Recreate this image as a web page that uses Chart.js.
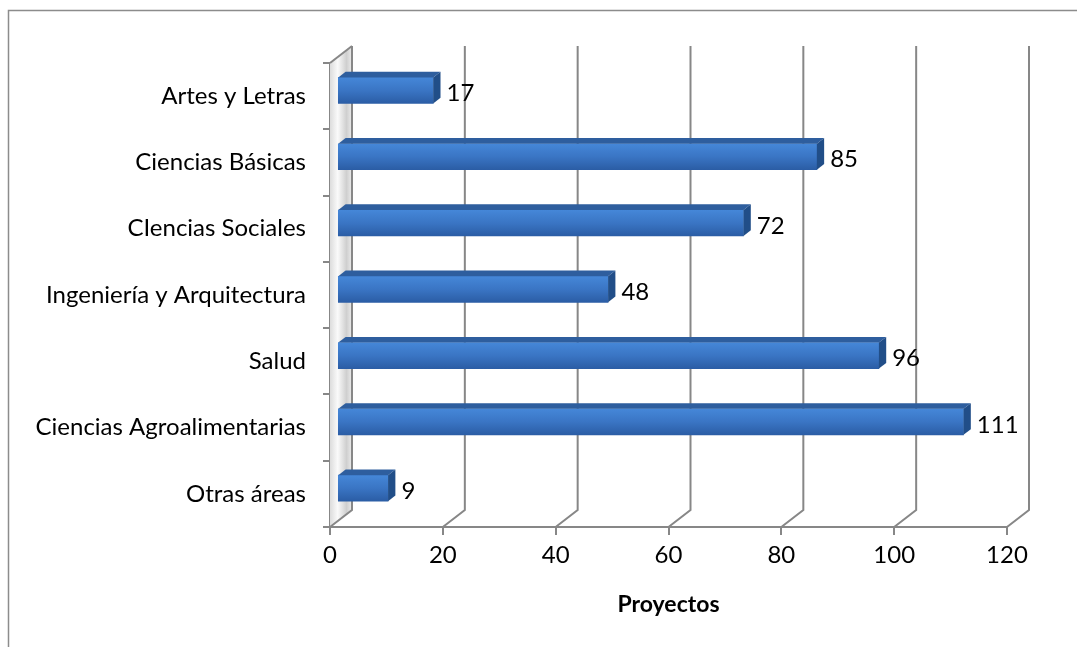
<!DOCTYPE html>
<html>
<head>
<meta charset="utf-8">
<script src="https://cdn.jsdelivr.net/npm/chart.js@4.4.0/dist/chart.umd.min.js"></script>
<style>
  html, body { margin: 0; padding: 0; background: #fff; }
  canvas { display: block; }
</style>
</head>
<body>
<canvas id="proyectosChart" width="1077" height="647"></canvas>
<script>
const categories = ['Artes y Letras', 'Ciencias Básicas', 'CIencias Sociales', 'Ingeniería y Arquitectura', 'Salud', 'Ciencias Agroalimentarias', 'Otras áreas'];
const proyectos = [17, 85, 72, 48, 96, 111, 9];
const xTicks = [0, 20, 40, 60, 80, 100, 120];
const axisTitle = 'Proyectos';

const FONT = 'Lato';
const FONT_SIZE = 24;
const GREY = '#878787';
// depth of the 3D box (back plane offset) and bar depth offset
const DEPTH = { x: 22, y: -17 };
const BAR_SHIFT = { x: 7.3, y: -5.7 };

const threeD = {
    id: 'threeD',
    beforeDraw(chart) {
        const ctx = chart.ctx;
        // outer frame (only top and left visible)
        ctx.save();
        ctx.strokeStyle = '#8c8c8c';
        ctx.lineWidth = 1.5;
        ctx.beginPath();
        ctx.moveTo(8.5, 647);
        ctx.lineTo(8.5, 10.5);
        ctx.lineTo(1077, 10.5);
        ctx.stroke();
        ctx.restore();
    },
    beforeDatasetsDraw(chart) {
        const ctx = chart.ctx;
        const xs = chart.scales.x;
        const area = chart.chartArea;
        const x0 = xs.getPixelForValue(0);

        ctx.save();
        // left wall
        const wall = ctx.createLinearGradient(x0, 0, x0 + DEPTH.x, 0);
        wall.addColorStop(0, '#dcdcdc');
        wall.addColorStop(0.35, '#fafafa');
        wall.addColorStop(0.75, '#cfcfcf');
        wall.addColorStop(1, '#ebebeb');
        ctx.fillStyle = wall;
        ctx.beginPath();
        ctx.moveTo(x0, area.top);
        ctx.lineTo(x0 + DEPTH.x, area.top + DEPTH.y);
        ctx.lineTo(x0 + DEPTH.x, area.bottom + DEPTH.y);
        ctx.lineTo(x0, area.bottom);
        ctx.closePath();
        ctx.fill();

        ctx.strokeStyle = GREY;
        ctx.lineWidth = 2;
        // wall top edge
        ctx.beginPath();
        ctx.moveTo(x0, area.top);
        ctx.lineTo(x0 + DEPTH.x, area.top + DEPTH.y);
        ctx.stroke();

        // back grid lines and floor connectors
        xTicks.forEach(v => {
            const px = xs.getPixelForValue(v);
            ctx.beginPath();
            ctx.moveTo(px + DEPTH.x, area.top + DEPTH.y);
            ctx.lineTo(px + DEPTH.x, area.bottom + DEPTH.y);
            ctx.lineTo(px, area.bottom);
            ctx.stroke();
        });
        ctx.restore();

        // push the bars back into the box
        ctx.save();
        ctx.translate(BAR_SHIFT.x, BAR_SHIFT.y);
    },
    afterDatasetsDraw(chart) {
        const ctx = chart.ctx;
        const meta = chart.getDatasetMeta(0);
        const dx = BAR_SHIFT.x, dy = BAR_SHIFT.y;

        meta.data.forEach((bar, i) => {
            const p = bar.getProps(['x', 'y', 'base', 'height'], true);
            const top = p.y - p.height / 2;
            const bottom = p.y + p.height / 2;

            // top face
            ctx.fillStyle = '#2e5e9e';
            ctx.beginPath();
            ctx.moveTo(p.base, top);
            ctx.lineTo(p.base + dx, top + dy);
            ctx.lineTo(p.x + dx, top + dy);
            ctx.lineTo(p.x, top);
            ctx.closePath();
            ctx.fill();

            // side face
            ctx.fillStyle = '#214e88';
            ctx.beginPath();
            ctx.moveTo(p.x, top);
            ctx.lineTo(p.x + dx, top + dy);
            ctx.lineTo(p.x + dx, bottom + dy);
            ctx.lineTo(p.x, bottom);
            ctx.closePath();
            ctx.fill();

            // value label
            ctx.fillStyle = '#000';
            ctx.font = `${FONT_SIZE}px ${FONT}`;
            ctx.textAlign = 'left';
            ctx.textBaseline = 'middle';
            ctx.fillText(String(proyectos[i]), p.x + dx + 6, p.y + 3);
        });
        ctx.restore();
    }
};

new Chart(document.getElementById('proyectosChart'), {
    type: 'bar',
    data: {
        labels: categories,
        datasets: [{
            data: proyectos,
            barThickness: 26,
            borderWidth: 0,
            clip: false,
            backgroundColor: (c) => {
                const chart = c.chart;
                if (!chart.chartArea) return '#3a74c2';
                const y = chart.scales.y.getPixelForValue(c.dataIndex);
                const g = chart.ctx.createLinearGradient(0, y - 13, 0, y + 13);
                g.addColorStop(0, '#4587d8');
                g.addColorStop(0.5, '#3a75c4');
                g.addColorStop(1, '#2b5da5');
                return g;
            }
        }]
    },
    options: {
        indexAxis: 'y',
        responsive: false,
        animation: false,
        layout: { padding: { top: 63, right: 70, left: 0, bottom: 0 } },
        plugins: {
            legend: { display: false },
            tooltip: { enabled: false }
        },
        scales: {
            x: {
                min: 0,
                max: 120,
                afterBuildTicks: (scale) => { scale.ticks = xTicks.map(v => ({ value: v })); },
                ticks: { color: '#000', font: { family: FONT, size: FONT_SIZE }, padding: 6 },
                grid: { drawOnChartArea: false, drawTicks: true, tickLength: 8, color: GREY, lineWidth: 2 },
                border: { display: true, color: GREY, width: 2 },
                title: {
                    display: true,
                    text: axisTitle,
                    color: '#000',
                    font: { family: FONT, size: 23, weight: 'bold' },
                    padding: { top: 4, bottom: 29 }
                },
                afterFit: (scale) => { scale.height = 120; }
            },
            y: {
                ticks: { color: '#000', font: { family: FONT, size: FONT_SIZE }, padding: 17 },
                grid: { offset: true, drawOnChartArea: false, drawTicks: true, tickLength: 7, color: GREY, lineWidth: 2 },
                border: { display: true, color: GREY, width: 2 },
                afterFit: (scale) => { scale.width = 330; }
            }
        }
    },
    plugins: [threeD]
});
</script>
</body>
</html>
